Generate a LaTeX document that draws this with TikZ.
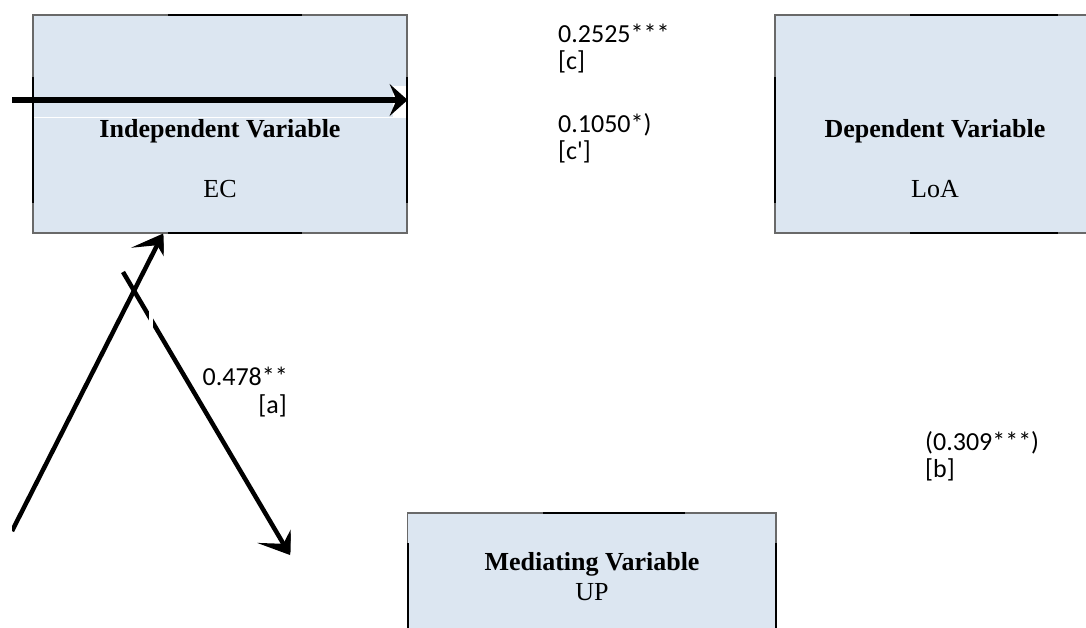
\documentclass[tikz,border=0pt]{standalone}
\usepackage{fontspec}
\setmainfont{Liberation Serif}
\newfontfamily\lblfont{Carlito}
\usetikzlibrary{arrows.meta}
\definecolor{boxfill}{RGB}{220,230,241}
\definecolor{edgegray}{RGB}{105,105,105}
\begin{document}
\begin{tikzpicture}[x=1pt,y=-1pt,
  varbox/.style={draw=edgegray, line width=1.2pt, fill=boxfill, rectangle, inner sep=0pt},
  boxtitle/.style={font=\fontsize{26}{30}\selectfont\bfseries, inner sep=0pt, anchor=base},
  boxname/.style={font=\fontsize{26}{30}\selectfont, inner sep=0pt, anchor=base},
  coef/.style={font=\lblfont\fontsize{26}{30}\selectfont, inner sep=0pt, anchor=base west},
  coefr/.style={coef, anchor=base east},
  blackedge/.style={line width=2pt, black},
  thickarrow/.style={line width=5.5pt, -{Stealth[length=18pt,width=32pt,inset=7pt]}},
  diagarrow/.style={line width=4.5pt, -{Stealth[length=27pt,width=44pt,inset=14pt]}},
]
\useasboundingbox (0,0) rectangle (1086,627);
\clip (0,0) rectangle (1086,627);

% boxes
\node[varbox, minimum width=374pt, minimum height=218pt] (iv) at (220,124) {};
\node[varbox, minimum width=320pt, minimum height=218pt] (dv) at (935,124) {};
\node[varbox, minimum width=368.5pt, minimum height=167pt] (mv) at (591.75,596.5) {};

% darker middle parts of the borders
\draw[blackedge] (168,15) -- (302,15);
\draw[blackedge] (168,233) -- (302,233);
\draw[blackedge] (33,77) -- (33,203);
\draw[blackedge] (407,77) -- (407,203);
\draw[blackedge] (910,15) -- (1058,15);
\draw[blackedge] (910,233) -- (1058,233);
\draw[blackedge] (775,77) -- (775,203);
\draw[blackedge] (543,513) -- (685,513);
\draw[blackedge] (407.5,543) -- (407.5,680);
\draw[blackedge] (776,543) -- (776,680);

% white artefacts
\draw[white, line width=1pt] (34,117.5) -- (406,117.5);
\fill[white] (393,86) rectangle (406,117);

% box texts
\node[boxtitle] (ivt) at (220,137) {Independent Variable};
\node[boxname] (ivn) at (220,197) {EC};
\node[boxtitle] (dvt) at (935,137) {Dependent Variable};
\node[boxname] (dvn) at (935,197) {LoA};
\node[boxtitle] (mvt) at (592,570) {Mediating Variable};
\node[boxname] (mvn) at (592,600) {UP};

% coefficients
\node[coef] (c1) at (558,42) {0.2525***};
\node[coef] (c1b) at (558,69) {[c]};
\node[coef] (c2) at (558,132) {0.1050*)};
\node[coef] (c2b) at (558,159) {[c']};
\node[coefr] (a1) at (288,385) {0.478**};
\node[coefr] (a1b) at (287,413) {[a]};
\node[coef] (b1) at (925,450) {(0.309***)};
\node[coef] (b1b) at (925,477) {[b]};

% arrows
\coordinate (hs) at (12,100);
\draw[thickarrow] (hs) -- (iv.east |- hs);

\coordinate (ds) at (123,272);
\coordinate (dt) at (290,555);
\begin{scope}
  \clip (0,0) rectangle (290.5,627);
  \draw[diagarrow] (ds) -- (dt);
\end{scope}
\fill[white] (149,300) rectangle (153,345);

\coordinate (us) at (12,531);
\coordinate (ut) at (163,233.6);
\begin{scope}
  \clip (12,0) rectangle (163.5,627);
  \draw[diagarrow] (us) -- (ut);
\end{scope}
\end{tikzpicture}
\end{document}
